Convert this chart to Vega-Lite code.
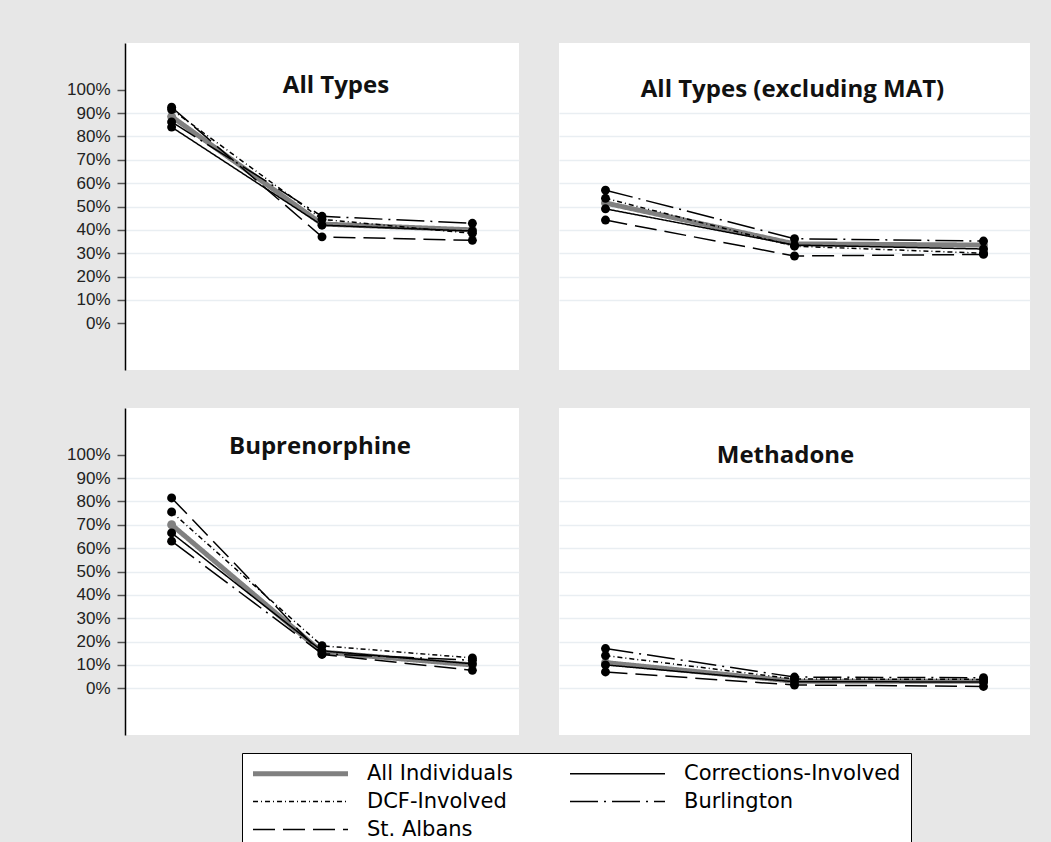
{
  "$schema": "https://vega.github.io/schema/vega-lite/v6.json",
  "background": "#e7e7e7",
  "autosize": {"type": "none"},
  "padding": {"left": 125, "top": 43, "right": 926, "bottom": 799},
  "datasets": {
    "d": [
      {"panel": "All Types", "series": "All Individuals", "period": "P1", "value": 0.885},
      {"panel": "All Types", "series": "All Individuals", "period": "P2", "value": 0.425},
      {"panel": "All Types", "series": "All Individuals", "period": "P3", "value": 0.400},
      {"panel": "All Types", "series": "Corrections-Involved", "period": "P1", "value": 0.840},
      {"panel": "All Types", "series": "Corrections-Involved", "period": "P2", "value": 0.420},
      {"panel": "All Types", "series": "Corrections-Involved", "period": "P3", "value": 0.395},
      {"panel": "All Types", "series": "DCF-Involved", "period": "P1", "value": 0.915},
      {"panel": "All Types", "series": "DCF-Involved", "period": "P2", "value": 0.445},
      {"panel": "All Types", "series": "DCF-Involved", "period": "P3", "value": 0.385},
      {"panel": "All Types", "series": "Burlington", "period": "P1", "value": 0.862},
      {"panel": "All Types", "series": "Burlington", "period": "P2", "value": 0.458},
      {"panel": "All Types", "series": "Burlington", "period": "P3", "value": 0.428},
      {"panel": "All Types", "series": "St. Albans", "period": "P1", "value": 0.925},
      {"panel": "All Types", "series": "St. Albans", "period": "P2", "value": 0.370},
      {"panel": "All Types", "series": "St. Albans", "period": "P3", "value": 0.355},

      {"panel": "All Types (excluding MAT)", "series": "All Individuals", "period": "P1", "value": 0.515},
      {"panel": "All Types (excluding MAT)", "series": "All Individuals", "period": "P2", "value": 0.340},
      {"panel": "All Types (excluding MAT)", "series": "All Individuals", "period": "P3", "value": 0.335},
      {"panel": "All Types (excluding MAT)", "series": "Corrections-Involved", "period": "P1", "value": 0.490},
      {"panel": "All Types (excluding MAT)", "series": "Corrections-Involved", "period": "P2", "value": 0.335},
      {"panel": "All Types (excluding MAT)", "series": "Corrections-Involved", "period": "P3", "value": 0.318},
      {"panel": "All Types (excluding MAT)", "series": "DCF-Involved", "period": "P1", "value": 0.535},
      {"panel": "All Types (excluding MAT)", "series": "DCF-Involved", "period": "P2", "value": 0.330},
      {"panel": "All Types (excluding MAT)", "series": "DCF-Involved", "period": "P3", "value": 0.300},
      {"panel": "All Types (excluding MAT)", "series": "Burlington", "period": "P1", "value": 0.570},
      {"panel": "All Types (excluding MAT)", "series": "Burlington", "period": "P2", "value": 0.362},
      {"panel": "All Types (excluding MAT)", "series": "Burlington", "period": "P3", "value": 0.352},
      {"panel": "All Types (excluding MAT)", "series": "St. Albans", "period": "P1", "value": 0.442},
      {"panel": "All Types (excluding MAT)", "series": "St. Albans", "period": "P2", "value": 0.288},
      {"panel": "All Types (excluding MAT)", "series": "St. Albans", "period": "P3", "value": 0.295},

      {"panel": "Buprenorphine", "series": "All Individuals", "period": "P1", "value": 0.700},
      {"panel": "Buprenorphine", "series": "All Individuals", "period": "P2", "value": 0.155},
      {"panel": "Buprenorphine", "series": "All Individuals", "period": "P3", "value": 0.100},
      {"panel": "Buprenorphine", "series": "Corrections-Involved", "period": "P1", "value": 0.665},
      {"panel": "Buprenorphine", "series": "Corrections-Involved", "period": "P2", "value": 0.160},
      {"panel": "Buprenorphine", "series": "Corrections-Involved", "period": "P3", "value": 0.105},
      {"panel": "Buprenorphine", "series": "DCF-Involved", "period": "P1", "value": 0.755},
      {"panel": "Buprenorphine", "series": "DCF-Involved", "period": "P2", "value": 0.182},
      {"panel": "Buprenorphine", "series": "DCF-Involved", "period": "P3", "value": 0.130},
      {"panel": "Buprenorphine", "series": "Burlington", "period": "P1", "value": 0.630},
      {"panel": "Buprenorphine", "series": "Burlington", "period": "P2", "value": 0.148},
      {"panel": "Buprenorphine", "series": "Burlington", "period": "P3", "value": 0.120},
      {"panel": "Buprenorphine", "series": "St. Albans", "period": "P1", "value": 0.815},
      {"panel": "Buprenorphine", "series": "St. Albans", "period": "P2", "value": 0.145},
      {"panel": "Buprenorphine", "series": "St. Albans", "period": "P3", "value": 0.077},

      {"panel": "Methadone", "series": "All Individuals", "period": "P1", "value": 0.110},
      {"panel": "Methadone", "series": "All Individuals", "period": "P2", "value": 0.030},
      {"panel": "Methadone", "series": "All Individuals", "period": "P3", "value": 0.030},
      {"panel": "Methadone", "series": "Corrections-Involved", "period": "P1", "value": 0.100},
      {"panel": "Methadone", "series": "Corrections-Involved", "period": "P2", "value": 0.028},
      {"panel": "Methadone", "series": "Corrections-Involved", "period": "P3", "value": 0.027},
      {"panel": "Methadone", "series": "DCF-Involved", "period": "P1", "value": 0.140},
      {"panel": "Methadone", "series": "DCF-Involved", "period": "P2", "value": 0.040},
      {"panel": "Methadone", "series": "DCF-Involved", "period": "P3", "value": 0.038},
      {"panel": "Methadone", "series": "Burlington", "period": "P1", "value": 0.170},
      {"panel": "Methadone", "series": "Burlington", "period": "P2", "value": 0.048},
      {"panel": "Methadone", "series": "Burlington", "period": "P3", "value": 0.045},
      {"panel": "Methadone", "series": "St. Albans", "period": "P1", "value": 0.070},
      {"panel": "Methadone", "series": "St. Albans", "period": "P2", "value": 0.014},
      {"panel": "Methadone", "series": "St. Albans", "period": "P3", "value": 0.008}
    ]
  },
  "data": {"name": "d"},
  "config": {
    "view": {"fill": "white", "stroke": null},
    "font": "Liberation Sans",
    "title": {"font": "Open Sans", "fontSize": 24, "fontWeight": "bold", "color": "#111111", "anchor": "middle", "frame": "group", "baseline": "alphabetic"},
    "axisY": {"title": null, "format": ".0%", "tickCount": 11, "grid": true, "gridColor": "#e9eef2", "gridWidth": 1.5, "tickSize": 8, "tickColor": "#555555", "tickWidth": 1.5, "domainColor": "#000000", "domainWidth": 1.5, "labelFont": "Liberation Sans", "labelFontSize": 17, "labelColor": "#222222", "labelPadding": 7, "labelOverlap": false},
    "line": {"strokeJoin": "round"}
  },
  "spacing": 38,
  "vconcat": [
    {
      "spacing": 40,
      "hconcat": [
        {
          "width": 394, "height": 327,
          "title": {"text": "All Types", "offset": -55, "dx": 14},
          "transform": [{"filter": "datum.panel === 'All Types'"}],
          "layer": [
            {
              "mark": {"type": "line"},
              "encoding": {
                "x": {"field": "period", "type": "ordinal", "scale": {"type": "point", "padding": 0.31}, "axis": null},
                "y": {"field": "value", "type": "quantitative", "scale": {"domain": [-0.2, 1.2], "nice": false, "zero": false}, "axis": {"values": [0, 0.1, 0.2, 0.3, 0.4, 0.5, 0.6, 0.7, 0.8, 0.9, 1], "tickCount": 11, "gridOpacity": {"condition": {"test": "datum.value < 0.05 || datum.value > 0.95", "value": 0}, "value": 1}}},
                "color": {"field": "series", "type": "nominal", "scale": {"domain": ["All Individuals", "Corrections-Involved", "DCF-Involved", "Burlington", "St. Albans"], "range": ["#808080", "#000000", "#000000", "#000000", "#000000"]},
                  "legend": {"orient": "none", "legendX": 117, "legendY": 710, "columns": 2, "direction": "horizontal", "title": null, "fillColor": "white", "strokeColor": "black", "padding": 10, "symbolType": "M-1,0H9", "symbolSize": 361, "symbolStrokeWidth": {"expr": "datum.value === 'All Individuals' ? 5 : 1.5"}, "labelFontSize": 21, "labelFont": "DejaVu Sans", "labelColor": "#000000", "labelOffset": 94, "columnPadding": 56, "rowPadding": 6, "labelLimit": 400}},
                "strokeDash": {"field": "series", "type": "nominal", "scale": {"domain": ["All Individuals", "Corrections-Involved", "DCF-Involved", "Burlington", "St. Albans"], "range": [[1, 0], [1, 0], [5, 3, 1, 3], [28, 6, 2, 6], [22, 8]]}},
                "strokeWidth": {"condition": {"test": "datum.series === 'All Individuals'", "value": 5}, "value": 1.5}
              }
            },
            {
              "mark": {"type": "point", "filled": true, "size": 80, "opacity": 1},
              "encoding": {
                "x": {"field": "period", "type": "ordinal"},
                "y": {"field": "value", "type": "quantitative"},
                "color": {"condition": {"test": "datum.series === 'All Individuals'", "value": "#808080"}, "value": "#000000"}
              }
            }
          ]
        },
        {
          "width": 471, "height": 327,
          "title": {"text": "All Types (excluding MAT)", "offset": -59, "dx": -2},
          "transform": [{"filter": "datum.panel === 'All Types (excluding MAT)'"}],
          "layer": [
            {
              "mark": {"type": "line"},
              "encoding": {
                "x": {"field": "period", "type": "ordinal", "scale": {"type": "point", "padding": 0.246}, "axis": null},
                "y": {"field": "value", "type": "quantitative", "scale": {"domain": [-0.2, 1.2], "nice": false, "zero": false}, "axis": {"values": [0, 0.1, 0.2, 0.3, 0.4, 0.5, 0.6, 0.7, 0.8, 0.9, 1], "tickCount": 11, "labels": false, "ticks": false, "domain": false, "gridOpacity": {"condition": {"test": "datum.value < 0.05 || datum.value > 0.95", "value": 0}, "value": 1}}},
                "color": {"field": "series", "type": "nominal"},
                "strokeDash": {"field": "series", "type": "nominal"},
                "strokeWidth": {"condition": {"test": "datum.series === 'All Individuals'", "value": 5}, "value": 1.5}
              }
            },
            {
              "mark": {"type": "point", "filled": true, "size": 80, "opacity": 1},
              "encoding": {
                "x": {"field": "period", "type": "ordinal"},
                "y": {"field": "value", "type": "quantitative"},
                "color": {"condition": {"test": "datum.series === 'All Individuals'", "value": "#808080"}, "value": "#000000"}
              }
            }
          ]
        }
      ]
    },
    {
      "spacing": 40,
      "hconcat": [
        {
          "width": 394, "height": 327,
          "title": {"text": "Buprenorphine", "offset": -51, "dx": -2},
          "transform": [{"filter": "datum.panel === 'Buprenorphine'"}],
          "layer": [
            {
              "mark": {"type": "line"},
              "encoding": {
                "x": {"field": "period", "type": "ordinal", "scale": {"type": "point", "padding": 0.31}, "axis": null},
                "y": {"field": "value", "type": "quantitative", "scale": {"domain": [-0.2, 1.2], "nice": false, "zero": false}, "axis": {"values": [0, 0.1, 0.2, 0.3, 0.4, 0.5, 0.6, 0.7, 0.8, 0.9, 1], "tickCount": 11, "gridOpacity": {"condition": {"test": "datum.value > 0.95", "value": 0}, "value": 1}}},
                "color": {"field": "series", "type": "nominal"},
                "strokeDash": {"field": "series", "type": "nominal"},
                "strokeWidth": {"condition": {"test": "datum.series === 'All Individuals'", "value": 5}, "value": 1.5}
              }
            },
            {
              "mark": {"type": "point", "filled": true, "size": 80, "opacity": 1},
              "encoding": {
                "x": {"field": "period", "type": "ordinal"},
                "y": {"field": "value", "type": "quantitative"},
                "color": {"condition": {"test": "datum.series === 'All Individuals'", "value": "#808080"}, "value": "#000000"}
              }
            }
          ]
        },
        {
          "width": 471, "height": 327,
          "title": {"text": "Methadone", "offset": -60, "dx": -9},
          "transform": [{"filter": "datum.panel === 'Methadone'"}],
          "layer": [
            {
              "mark": {"type": "line"},
              "encoding": {
                "x": {"field": "period", "type": "ordinal", "scale": {"type": "point", "padding": 0.246}, "axis": null},
                "y": {"field": "value", "type": "quantitative", "scale": {"domain": [-0.2, 1.2], "nice": false, "zero": false}, "axis": {"values": [0, 0.1, 0.2, 0.3, 0.4, 0.5, 0.6, 0.7, 0.8, 0.9, 1], "tickCount": 11, "labels": false, "ticks": false, "domain": false, "gridOpacity": {"condition": {"test": "datum.value > 0.95", "value": 0}, "value": 1}}},
                "color": {"field": "series", "type": "nominal"},
                "strokeDash": {"field": "series", "type": "nominal"},
                "strokeWidth": {"condition": {"test": "datum.series === 'All Individuals'", "value": 5}, "value": 1.5}
              }
            },
            {
              "mark": {"type": "point", "filled": true, "size": 80, "opacity": 1},
              "encoding": {
                "x": {"field": "period", "type": "ordinal"},
                "y": {"field": "value", "type": "quantitative"},
                "color": {"condition": {"test": "datum.series === 'All Individuals'", "value": "#808080"}, "value": "#000000"}
              }
            }
          ]
        }
      ]
    }
  ]
}
